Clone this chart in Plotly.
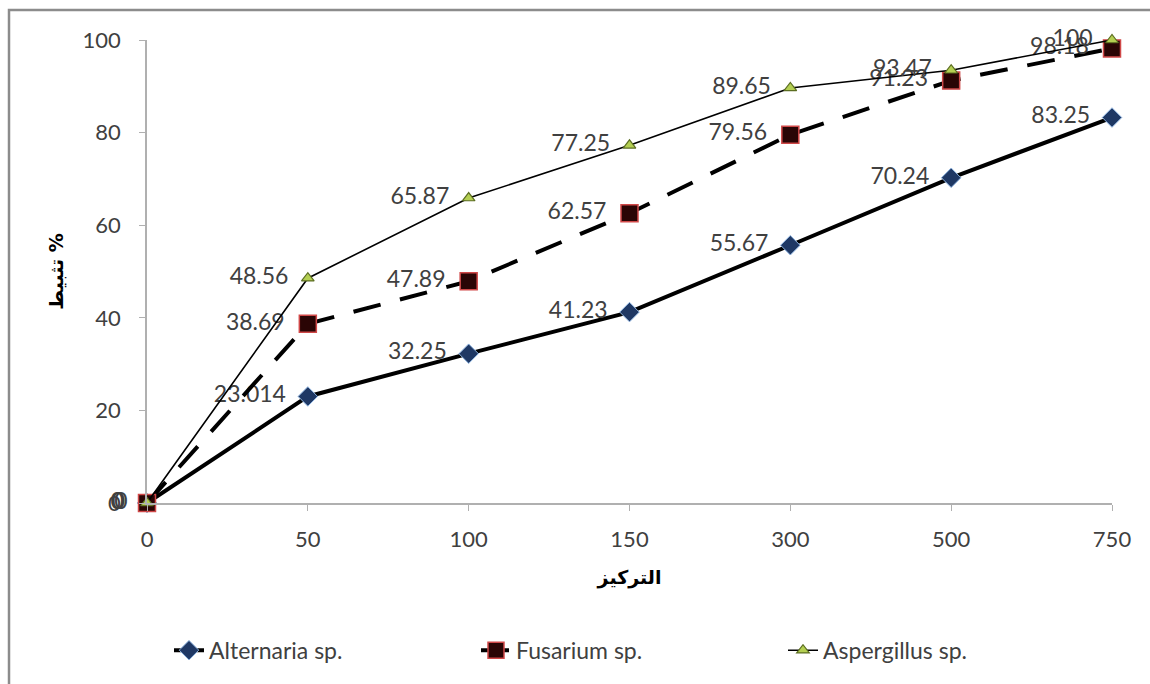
import plotly.graph_objects as go

# Concentration levels (categorical x axis)
concentrations = ["0", "50", "100", "150", "300", "500", "750"]

# Inhibition percentage per fungus
alternaria = [0, 23.014, 32.25, 41.23, 55.67, 70.24, 83.25]
fusarium = [0, 38.69, 47.89, 62.57, 79.56, 91.23, 98.18]
aspergillus = [0, 48.56, 65.87, 77.25, 89.65, 93.47, 100]

FONT = "Lato, Open Sans, Liberation Sans"
LABEL_COLOR = "#404040"
LABEL_SIZE = 23


def labels(values):
    # trailing space pushes each value label a little further left of its marker
    return [f"{v:g}\u2002" for v in values]


fig = go.Figure()

fig.add_trace(go.Scatter(
    x=concentrations, y=alternaria, name="Alternaria sp.",
    mode="lines+markers+text",
    line=dict(color="black", width=4),
    marker=dict(symbol="diamond", size=15, color="#1f3864",
                line=dict(color="#8fb4e0", width=1)),
    text=labels(alternaria), textposition="middle left",
    textfont=dict(family=FONT, size=LABEL_SIZE, color=LABEL_COLOR),
    cliponaxis=False,
))

fig.add_trace(go.Scatter(
    x=concentrations, y=fusarium, name="Fusarium sp.",
    mode="lines+markers+text",
    line=dict(color="black", width=4, dash="28px,20px"),
    marker=dict(symbol="square", size=17, color="#2a0505",
                line=dict(color="#d04848", width=1.5)),
    text=labels(fusarium), textposition="middle left",
    textfont=dict(family=FONT, size=LABEL_SIZE, color=LABEL_COLOR),
    cliponaxis=False,
))

fig.add_trace(go.Scatter(
    x=concentrations, y=aspergillus, name="Aspergillus sp.",
    mode="lines+markers+text",
    line=dict(color="black", width=1.6),
    marker=dict(symbol="triangle-up", size=11, color="#b4cf52",
                line=dict(color="#5c6e22", width=1.2)),
    text=labels(aspergillus), textposition="middle left",
    textfont=dict(family=FONT, size=LABEL_SIZE, color=LABEL_COLOR),
    cliponaxis=False,
))

fig.update_layout(
    width=1150, height=684,
    margin=dict(l=147, r=38, t=40, b=181),
    paper_bgcolor="white", plot_bgcolor="white",
    font=dict(family=FONT, size=20, color="#404040"),
    showlegend=True,
    legend=dict(orientation="h", x=0.5, xanchor="center", y=-0.318, yanchor="middle",
                font=dict(family=FONT, size=23, color="#404040"),
                entrywidth=262, entrywidthmode="pixels", tracegroupgap=0),
    xaxis=dict(
        type="category", range=[0, 6],
        showline=True, linecolor="#b0b0b0", linewidth=1.5,
        ticks="outside", ticklen=6, tickcolor="#b0b0b0",
        ticklabelstandoff=10,
        tickfont=dict(family=FONT, size=22, color="#404040"),
        showgrid=False, zeroline=False,
        title=dict(text="<b>التركيز</b>", font=dict(family="DejaVu Sans", size=19, color="black"),
                   standoff=20),
    ),
    yaxis=dict(
        range=[0, 100], tickvals=[0, 20, 40, 60, 80, 100],
        showline=True, linecolor="#b0b0b0", linewidth=1.5,
        ticks="outside", ticklen=6, tickcolor="#b0b0b0",
        ticklabelstandoff=14,
        tickfont=dict(family=FONT, size=22, color="#404040"),
        showgrid=False, zeroline=False,
        title=dict(text="<b>تثبيط %</b>", font=dict(family="DejaVu Sans", size=19, color="black"),
                   standoff=14),
    ),
    shapes=[
        # Chart-area frame
        dict(type="rect", xref="paper", yref="paper",
             x0=-0.143, x1=1.2, y0=-0.9, y1=1.065,
             line=dict(color="#8c8c8c", width=2.5), layer="below"),
    ],
)

fig.write_html("out.html")
